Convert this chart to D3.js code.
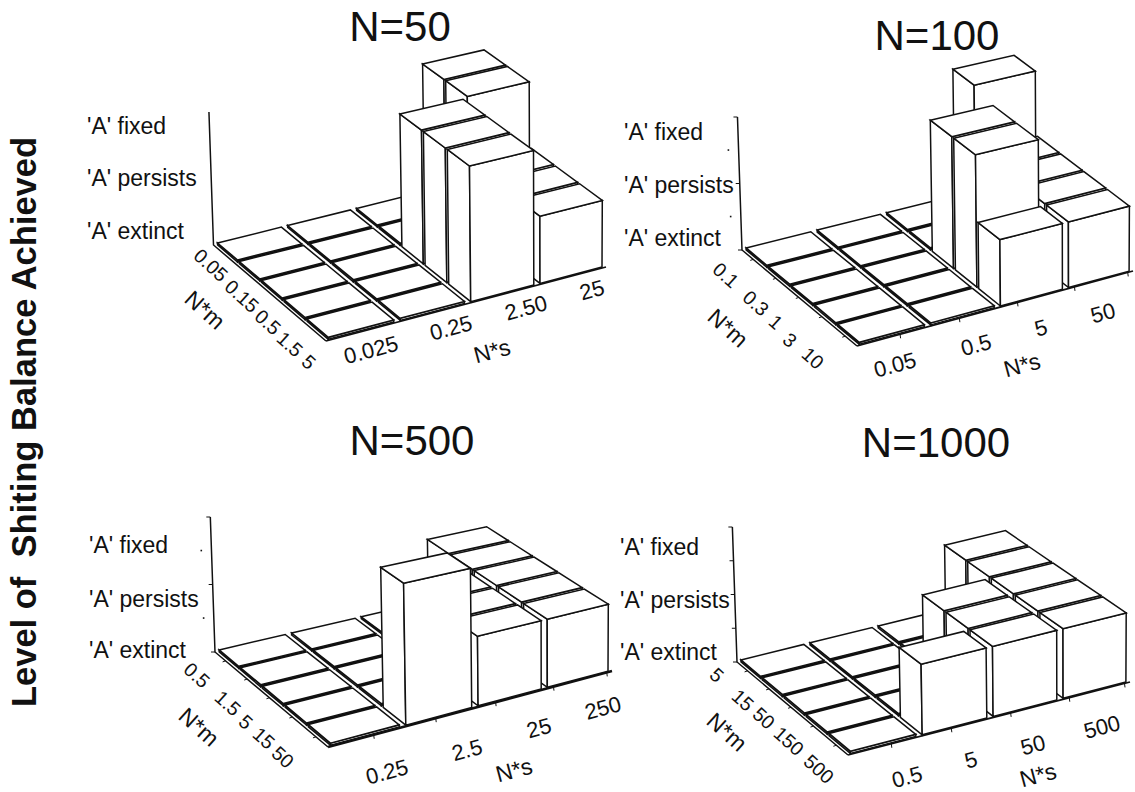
<!DOCTYPE html>
<html>
<head>
<meta charset="utf-8">
<script src="https://cdn.jsdelivr.net/npm/d3@7"></script>
<style>
  body { margin: 0; background: #fff; }
  text { font-family: "Liberation Sans", Arial, sans-serif; fill: #111; white-space: pre; }
</style>
</head>
<body>
<div id="chart"></div>
<script>
const yTitle = "Level of  Shiting Balance Achieved";
const levelLabels = ["'A' fixed", "'A' persists", "'A' extinct"];

// 0 = 'A' extinct, 1 = 'A' persists, 2 = 'A' fixed
// one row per N*m (back to front), one value per N*s (left to right)
const sLabels50 = ["0.025", "0.25", "2.50", "25"];
const mLabels50 = ["0.05", "0.15", "0.5", "1.5", "5"];
const levels50 = [
  [0, 0, 0, 2],
  [0, 0, 0, 2],
  [0, 0, 2, 1],
  [0, 0, 2, 1],
  [0, 0, 2, 1],
];

const sLabels100 = ["0.05", "0.5", "5", "50"];
const mLabels100 = ["0.1", "0.3", "1", "3", "10"];
const levels100 = [
  [0, 0, 0, 2],
  [0, 0, 0, 1],
  [0, 0, 2, 1],
  [0, 0, 2, 1],
  [0, 0, 1, 1],
];

const sLabels500 = ["0.25", "2.5", "25", "250"];
const mLabels500 = ["0.5", "1.5", "5", "15", "50"];
const levels500 = [
  [0, 0, 0, 1],
  [0, 0, 1, 1],
  [0, 0, 1, 1],
  [0, 0, 1, 1],
  [0, 2, 1, 1],
];

const sLabels1000 = ["0.5", "5", "50", "500"];
const mLabels1000 = ["5", "15", "50", "150", "500"];
const levels1000 = [
  [0, 0, 0, 1],
  [0, 0, 0, 1],
  [0, 0, 1, 1],
  [0, 0, 1, 1],
  [0, 1, 1, 1],
];

// where each panel sits on the page: floor corners, axis height, hand placed labels
const panels = [
  {
    title: "N=50", sLabels: sLabels50, mLabels: mLabels50, levels: levels50,
    titlePos: [400, 41], ticks: "none", frontW: 1.5,
    A: [213.5, 245], B: [487, 177], C: [606, 267], D: [326, 341], axisH: 133,
    levelX: 87, levelY: [134, 186, 239],
    sX: [371, 451, 526, 592], sY: [350, 328, 308, 290], sName: [492, 351],
    mX: [211, 242, 268, 290, 309], mY: [265, 296, 322, 344, 362], mName: [205, 310],
  },
  {
    title: "N=100", sLabels: sLabels100, mLabels: mLabels100, levels: levels100,
    titlePos: [937, 50], ticks: "dots", frontW: 1.8,
    A: [742, 250], B: [1017, 181], C: [1133, 271], D: [857, 346], axisH: 133,
    levelX: 624, levelY: [140, 193, 246],
    sX: [895, 976, 1041, 1103], sY: [365, 345, 328, 313], sName: [1022, 365],
    mX: [726, 756, 776, 790, 813], mY: [275, 303, 322, 340, 358], mName: [728, 328],
  },
  {
    title: "N=500", sLabels: sLabels500, mLabels: mLabels500, levels: levels500,
    titlePos: [412, 455], ticks: "dots", frontW: 2.6,
    A: [215, 652], B: [489, 588], C: [612, 671], D: [328, 747], axisH: 135,
    levelX: 89, levelY: [553, 607, 658],
    sX: [387, 467, 539, 603], sY: [772, 750, 728, 708], sName: [514, 770],
    mX: [197, 228, 246, 264, 283], mY: [675, 703, 722, 738, 757], mName: [199, 727],
  },
  {
    title: "N=1000", sLabels: sLabels1000, mLabels: mLabels1000, levels: levels1000,
    titlePos: [936, 457], ticks: "full", frontW: 1.8,
    A: [737, 662], B: [1008, 595], C: [1130, 682], D: [848, 755], axisH: 135,
    levelX: 620, levelY: [555, 608, 660],
    sX: [907, 971, 1033, 1102], sY: [777, 760, 745, 727], sName: [1038, 775],
    mX: [717, 743, 764, 789, 819], mY: [675, 700, 718, 741, 769], mName: [727, 732],
  },
];

const sTickValues = [0.6, 1.44, 2.28, 3.12, 3.92];
const mTickValues = [0.5, 1.5, 2.5, 3.5, 4.5];
const hTickValues = [0, 0.5, 1, 1.5, 2];

const svg = d3.select("#chart").append("svg")
  .attr("width", 1135)
  .attr("height", 792)
  .style("display", "block");

// maps the unit floor square onto the four corners seen in the picture
function floorMap(p) {
  const [x0, y0] = p.A, [x1, y1] = p.B, [x2, y2] = p.C, [x3, y3] = p.D;
  const dx1 = x1 - x2, dx2 = x3 - x2, sx = x0 - x1 + x2 - x3;
  const dy1 = y1 - y2, dy2 = y3 - y2, sy = y0 - y1 + y2 - y3;
  const det = dx1 * dy2 - dx2 * dy1;
  const g = (sx * dy2 - dx2 * sy) / det;
  const h = (dx1 * sy - sx * dy1) / det;
  const a = x1 - x0 + g * x1, b = x3 - x0 + h * x3;
  const d = y1 - y0 + g * y1, e = y3 - y0 + h * y3;
  return (u, v) => {
    const w = g * u + h * v + 1;
    return [(a * u + b * v + x0) / w, (d * u + e * v + y0) / w, w];
  };
}

function drawPanel(p) {
  const g = svg.append("g");
  const nS = p.sLabels.length, nM = p.mLabels.length;

  const sScale = d3.scaleLinear().domain([0, nS]).range([0, 1]);
  const mScale = d3.scaleLinear().domain([0, nM]).range([0, 1]);
  const hScale = d3.scaleLinear().domain([0, 2]).range([0, p.axisH]);
  const floor = floorMap(p);
  const lean = p.C[0] - 50;

  const project = (s, m, level) => {
    const [x, y, w] = floor(sScale(s), mScale(m));
    const up = hScale(level) / w;
    return [x + (x - lean) * up * 0.0001, y - up];
  };

  const toPath = (pts) => "M" + pts.map((q) => q[0].toFixed(1) + "," + q[1].toFixed(1)).join("L") + "Z";

  // axes first, the bars sit on top of them
  const axisLine = d3.line();
  g.append("path")
    .attr("d", axisLine([project(0, 0, 2), project(0, 0, 0), project(0, nM, 0)]))
    .attr("fill", "none")
    .attr("stroke", "#111")
    .attr("stroke-width", 1.5);
  g.append("path")
    .attr("d", axisLine([project(0, nM, 0), project(nS, nM, 0)]))
    .attr("fill", "none")
    .attr("stroke", "#111")
    .attr("stroke-width", p.frontW);

  if (p.ticks != "none") {
    hTickValues.forEach((t) => {
      const q = project(0, 0, t);
      if (p.ticks == "dots" && t % 1 != 0) {
        g.append("rect").attr("x", q[0] - 11).attr("y", q[1] - 1).attr("width", 1.6).attr("height", 1.6).attr("fill", "#111");
      } else {
        g.append("line").attr("x1", q[0] - 4).attr("x2", q[0]).attr("y1", q[1]).attr("y2", q[1]).attr("stroke", "#111");
      }
    });
    sTickValues.forEach((t) => {
      const q = project(t, nM, 0);
      g.append("line").attr("x1", q[0]).attr("x2", q[0] + 0.5).attr("y1", q[1]).attr("y2", q[1] + 4).attr("stroke", "#111");
    });
    mTickValues.forEach((t) => {
      const q = project(0, t, 0);
      g.append("line").attr("x1", q[0]).attr("x2", q[0] - 3).attr("y1", q[1]).attr("y2", q[1] + 1).attr("stroke", "#111");
    });
  }

  // painter's order: right columns first, back rows first
  const gapS = 0.045, gapM = 0.04, baseLevel = 0.03;
  const cells = [];
  d3.range(nS - 1, -1, -1).forEach((s) => {
    d3.range(nM).forEach((m) => {
      cells.push({ s, m, level: Math.max(p.levels[m][s], baseLevel) });
    });
  });

  const bars = g.selectAll(".bar").data(cells).enter().append("g").attr("class", "bar");

  const face = (sel, corners) => sel.append("path")
    .attr("d", (d) => toPath(corners(d)))
    .attr("fill", "#fff")
    .attr("stroke", "#111")
    .attr("stroke-width", 1.5)
    .attr("stroke-linejoin", "miter");

  // left side
  face(bars, (d) => [
    project(d.s + gapS, d.m + gapM, 0),
    project(d.s + gapS, d.m + 1 - gapM, 0),
    project(d.s + gapS, d.m + 1 - gapM, d.level),
    project(d.s + gapS, d.m + gapM, d.level),
  ]);
  // front, black under flat cells so the row dividers read as thick lines
  face(bars, (d) => [
    project(d.s + gapS, d.m + 1 - gapM, 0),
    project(d.s + 1 - gapS, d.m + 1 - gapM, 0),
    project(d.s + 1 - gapS, d.m + 1 - gapM, d.level),
    project(d.s + gapS, d.m + 1 - gapM, d.level),
  ]).attr("fill", (d) => (d.level == baseLevel && d.m < nM - 1 ? "#111" : "#fff"));
  // top
  face(bars, (d) => [
    project(d.s + gapS, d.m + gapM, d.level),
    project(d.s + 1 - gapS, d.m + gapM, d.level),
    project(d.s + 1 - gapS, d.m + 1 - gapM, d.level),
    project(d.s + gapS, d.m + 1 - gapM, d.level),
  ]);

  // text
  g.append("text")
    .attr("x", p.titlePos[0])
    .attr("y", p.titlePos[1])
    .attr("text-anchor", "middle")
    .attr("font-size", 42)
    .text(p.title);

  g.selectAll(".level").data(levelLabels).enter().append("text")
    .attr("class", "level")
    .attr("x", p.levelX)
    .attr("y", (d, i) => p.levelY[i])
    .attr("font-size", 23)
    .text((d) => d);

  const sX = d3.scaleLinear().domain(d3.range(nS)).range(p.sX);
  const sY = d3.scaleLinear().domain(d3.range(nS)).range(p.sY);
  const mX = d3.scaleLinear().domain(d3.range(nM)).range(p.mX);
  const mY = d3.scaleLinear().domain(d3.range(nM)).range(p.mY);

  g.selectAll(".sLabel").data(p.sLabels).enter().append("text")
    .attr("class", "sLabel")
    .attr("text-anchor", "middle")
    .attr("dominant-baseline", "central")
    .attr("font-size", 22)
    .attr("transform", (d, i) => `translate(${sX(i)},${sY(i)}) rotate(-15)`)
    .text((d) => d);

  g.selectAll(".mLabel").data(p.mLabels).enter().append("text")
    .attr("class", "mLabel")
    .attr("text-anchor", "middle")
    .attr("dominant-baseline", "central")
    .attr("font-size", 19.5)
    .attr("transform", (d, i) => `translate(${mX(i)},${mY(i)}) rotate(42)`)
    .text((d) => d);

  g.append("text")
    .attr("text-anchor", "middle")
    .attr("dominant-baseline", "central")
    .attr("font-size", 23)
    .attr("transform", `translate(${p.sName[0]},${p.sName[1]}) rotate(-15)`)
    .text("N*s");

  g.append("text")
    .attr("text-anchor", "middle")
    .attr("dominant-baseline", "central")
    .attr("font-size", 23)
    .attr("transform", `translate(${p.mName[0]},${p.mName[1]}) rotate(42)`)
    .text("N*m");
}

panels.forEach(drawPanel);

svg.append("text")
  .attr("transform", "translate(36,422) rotate(-90)")
  .attr("text-anchor", "middle")
  .attr("font-size", 34.5)
  .attr("font-weight", "bold")
  .text(yTitle);
</script>
</body>
</html>
